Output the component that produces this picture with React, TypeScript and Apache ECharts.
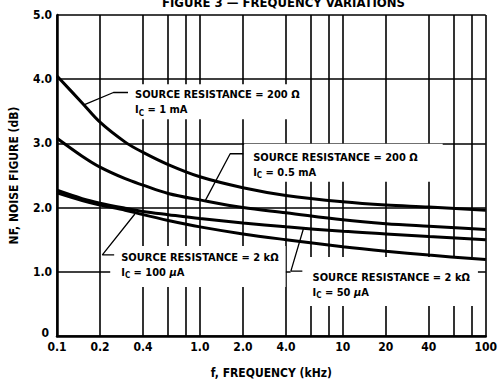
import React, { useEffect, useRef } from 'react';
import * as echarts from 'echarts';

// ---- data ----
const freqKHz = [0.1, 0.15, 0.2, 0.3, 0.4, 0.6, 1, 2, 4, 10, 20, 40, 100];
const nfRs200Ic1mA = [4.05, 3.63, 3.33, 3.02, 2.86, 2.67, 2.48, 2.31, 2.19, 2.09, 2.04, 2.01, 1.96];
const nfRs200Ic05mA = [3.08, 2.8, 2.63, 2.45, 2.35, 2.22, 2.12, 2.0, 1.92, 1.81, 1.75, 1.71, 1.66];
const nfRs2kIc50uA = [2.27, 2.14, 2.07, 1.99, 1.94, 1.89, 1.83, 1.76, 1.7, 1.63, 1.59, 1.55, 1.5];
const nfRs2kIc100uA = [2.23, 2.11, 2.04, 1.96, 1.89, 1.8, 1.7, 1.59, 1.5, 1.39, 1.32, 1.26, 1.19];

const xLabelValues = [0.1, 0.2, 0.4, 1, 2, 4, 10, 20, 40, 100];
const xGridValues = [0.1, 0.2, 0.4, 0.6, 0.8, 1, 2, 4, 6, 8, 10, 20, 40, 60, 80, 100];

const titleText = 'FIGURE 3 — FREQUENCY VARIATIONS';
const xName = 'f, FREQUENCY (kHz)';
const yName = 'NF, NOISE FIGURE (dB)';

// annotations (anchored in data coordinates)
const noteTexts = [
  ['SOURCE RESISTANCE = 200 Ω', ' = 1 mA', false],
  ['SOURCE RESISTANCE = 200 Ω', ' = 0.5 mA', false],
  ['SOURCE RESISTANCE = 2 kΩ', ' = 100 ', true],
  ['SOURCE RESISTANCE = 2 kΩ', ' = 50 ', true],
];
const noteAnchors = [
  [0.314, 3.92],
  [2.04, 2.994],
  [0.2357, 1.402],
  [4.31, 1.232],
];
const notePaddings = [
  [3, 4, 2, 7],
  [6, 25, 2, 9],
  [4, 7, 7, 11],
  [13, 8, 6, 22],
];
const leaders = [
  [[0.314, 3.793], [0.2483, 3.793], [0.1543, 3.6]],
  [[2.011, 2.839], [1.628, 2.839], [1.095, 2.117]],
  [[0.2512, 1.263], [0.2076, 1.263], [0.3506, 1.9]],
  [[5.21, 1.011], [4.33, 1.011], [5.3, 1.67]],
];

const FONT = '"Liberation Sans Narrow", "DejaVu Sans Condensed", "Arial Narrow", sans-serif';

export default function App() {
  const ref = useRef<HTMLDivElement>(null);
  useEffect(() => {
    if (!ref.current) return;
    const chart = echarts.init(ref.current, undefined, { renderer: 'svg' });
    const pair = (ys: number[]) => freqKHz.map((f, i) => [f, ys[i]]);
    const curveStyle = { color: '#000', width: 3 };
    const curves = [nfRs200Ic1mA, nfRs200Ic05mA, nfRs2kIc50uA, nfRs2kIc100uA].map((ys, i) => ({
      type: 'line',
      name: 'c' + i,
      data: pair(ys),
      smooth: 0.35,
      showSymbol: false,
      symbol: 'none',
      lineStyle: curveStyle,
      itemStyle: { color: '#000' },
      z: 3,
      silent: true,
    }));
    const t = { fontFamily: FONT, fontWeight: 'bold', fontSize: 11, lineHeight: 15, color: '#000' };
    const notesSeries = {
      type: 'line',
      name: 'notes',
      data: [],
      markPoint: {
        z: 1,
        silent: true,
        symbol: 'circle',
        symbolSize: 0,
        data: noteTexts.map((nt, i) => ({
          coord: noteAnchors[i],
          symbolSize: 0,
          label: {
            show: true,
            position: [0, 0],
            align: 'left',
            verticalAlign: 'top',
            backgroundColor: '#fff',
            padding: notePaddings[i],
            formatter:
              '{t|' + nt[0] + '}\n{t|I}{s|C}{t|' + nt[1] + '}' + (nt[2] ? '{mu|μ}{t|A}' : ''),
            rich: {
              t,
              s: { ...t, fontSize: 8, lineHeight: 8, verticalAlign: 'bottom' },
              mu: { ...t, fontStyle: 'italic' },
            },
          },
        })),
      },
    };
    const leaderSeries = leaders.map((pts, i) => ({
      type: 'line',
      name: 'leader' + i,
      data: pts,
      symbol: 'none',
      showSymbol: false,
      lineStyle: { color: '#000', width: 1.3 },
      z: 4,
      silent: true,
    }));
    const axisFont = { fontFamily: FONT, fontWeight: 'bold', fontSize: 12, color: '#000' };
    chart.setOption({
      animation: false,
      backgroundColor: '#fff',
      title: {
        text: titleText,
        left: 157,
        top: -9,
        textStyle: { ...axisFont, fontSize: 13 },
      },
      grid: { left: 56, right: 9, top: 15, bottom: 45, containLabel: false },
      xAxis: {
        type: 'log',
        logBase: 10,
        min: 0.1,
        max: 100,
        name: xName,
        nameLocation: 'middle',
        nameGap: 31,
        nameTextStyle: axisFont,
        axisLine: { show: true, lineStyle: { color: '#000', width: 2.5 } },
        axisTick: { show: false, customValues: xGridValues },
        minorTick: { show: false },
        axisLabel: {
          ...axisFont,
          margin: 5,
          customValues: xLabelValues,
          formatter: (v: number) => (v < 10 ? v.toFixed(1) : String(Math.round(v))),
        },
        splitLine: { show: true, lineStyle: { color: '#000', width: 1.6 } },
      },
      yAxis: {
        type: 'value',
        min: 0,
        max: 5,
        interval: 1,
        name: yName,
        nameLocation: 'middle',
        nameGap: 37,
        nameTextStyle: axisFont,
        axisLine: { show: true, lineStyle: { color: '#000', width: 2.5 } },
        axisTick: { show: false },
        axisLabel: {
          ...axisFont,
          margin: 5,
          formatter: (v: number) => (v === 0 ? '{z|0}' : v.toFixed(1)),
          rich: { z: { ...axisFont, padding: [0, 3, 6, 0] } },
        },
        splitLine: { show: true, lineStyle: { color: '#000', width: 1.6 } },
      },
      series: [notesSeries, ...curves, ...leaderSeries],
    });
    return () => chart.dispose();
  }, []);
  return <div ref={ref} style={{ width: 500, height: 384, position: 'absolute', left: 0, top: 0 }} />;
}
